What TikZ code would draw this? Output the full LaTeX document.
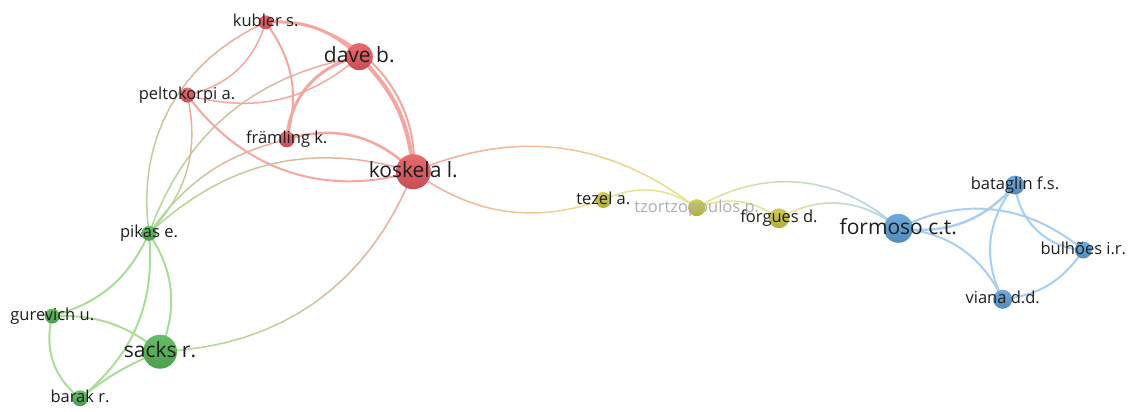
\documentclass[tikz,border=0pt]{standalone}
\usepackage{fontspec}
\setmainfont{Open Sans}
\usetikzlibrary{calc}
\definecolor{redE}{RGB}{246,166,160}
\definecolor{greenE}{RGB}{170,222,152}
\definecolor{blueE}{RGB}{168,206,242}
\definecolor{yelE}{RGB}{230,228,140}
\definecolor{redN}{RGB}{228,88,94}
\definecolor{greenN}{RGB}{84,180,84}
\definecolor{blueN}{RGB}{92,158,214}
\definecolor{yelN}{RGB}{200,198,66}
\definecolor{txt}{RGB}{30,30,30}
\definecolor{txtG}{RGB}{175,175,175}
\newcommand\pedge[5]{\draw[draw=#4, line width=#5, line cap=round] (#1.center) to[bend left=#3] (#2.center);}
\newcommand\gedge[6]{%
 \path (#1.center) to[bend left=#3] coordinate[pos=0.0625](q1) coordinate[pos=0.125](q2) coordinate[pos=0.1875](q3) coordinate[pos=0.25](q4) coordinate[pos=0.3125](q5) coordinate[pos=0.375](q6) coordinate[pos=0.4375](q7) coordinate[pos=0.5](q8) coordinate[pos=0.5625](q9) coordinate[pos=0.625](q10) coordinate[pos=0.6875](q11) coordinate[pos=0.75](q12) coordinate[pos=0.8125](q13) coordinate[pos=0.875](q14) coordinate[pos=0.9375](q15) (#2.center);
 \coordinate (q0) at (#1.center);
 \coordinate (q16) at (#2.center);
 \foreach \i in {0,...,15}{%
   \pgfmathtruncatemacro\j{\i+1}%
   \pgfmathtruncatemacro\m{100*(\i+0.5)/16}%
   \draw[line width=#6, line cap=round, draw=#5!\m!#4] (q\i) -- (q\j);
 }}
\tikzset{
  nd/.style={circle, inner sep=0pt, minimum size=#1},
  rnode/.style={nd=#1, top color=redN!88!white, bottom color=redN!88!black},
  gnode/.style={nd=#1, top color=greenN!88!white, bottom color=greenN!88!black},
  bnode/.style={nd=#1, top color=blueN!88!white, bottom color=blueN!88!black},
  ynode/.style={nd=#1, top color=yelN!88!white, bottom color=yelN!88!black},
  labS/.style={anchor=base, inner sep=0pt, text=txt, font=\fontsize{16.5}{18}\selectfont},
  labL/.style={anchor=base, inner sep=0pt, text=txt, font=\fontsize{21}{24}\selectfont},
}
\begin{document}
\begin{tikzpicture}[x=1pt,y=1pt]
\fill[white] (0,0) rectangle (1133,-412);
\useasboundingbox (0,0) rectangle (1133,-412);
% node positions
\coordinate (kub) at (265.7,-22.3);
\coordinate (dav) at (359.3,-56.7);
\coordinate (pel) at (187.3,-95);
\coordinate (fra) at (286.7,-139.3);
\coordinate (kos) at (413.3,-171.7);
\coordinate (pik) at (149,-233.3);
\coordinate (gur) at (52.3,-316);
\coordinate (sac) at (160,-351.7);
\coordinate (bar) at (80,-398.3);
\coordinate (tez) at (603.3,-200);
\coordinate (tzo) at (696.7,-207.7);
\coordinate (frg) at (779,-218.3);
\coordinate (frm) at (898.3,-228.3);
\coordinate (bat) at (1015,-185);
\coordinate (bul) at (1083.3,-250);
\coordinate (via) at (1002.7,-299.3);
% mixed-cluster edges
\gedge{kub}{pik}{-37}{redE}{greenE}{1.5}
\gedge{dav}{pik}{-30}{redE}{greenE}{1.5}
\gedge{pel}{pik}{28}{redE}{greenE}{1.5}
\gedge{fra}{pik}{-20}{redE}{greenE}{1.5}
\gedge{kos}{pik}{-30}{redE}{greenE}{1.5}
\gedge{kos}{sac}{33}{redE}{greenE}{1.5}
\gedge{kos}{tzo}{30}{redE}{yelE}{1.5}
\gedge{kos}{tez}{-27}{redE}{yelE}{1.5}
\gedge{tzo}{frm}{37}{yelE}{blueE}{1.5}
\gedge{frg}{frm}{35}{yelE}{blueE}{1.5}
% red cluster
\pedge{kub}{dav}{24}{redE}{3}
\pedge{kub}{kos}{50}{redE}{2}
\pedge{kub}{pel}{30}{redE}{1.5}
\pedge{kub}{fra}{26}{redE}{2}
\pedge{dav}{fra}{-37}{redE}{3}
\pedge{dav}{pel}{28}{redE}{1.5}
\pedge{dav}{kos}{20}{redE}{4}
\pedge{pel}{kos}{-35}{redE}{2}
\pedge{fra}{kos}{31}{redE}{2.5}
% green cluster
\pedge{pik}{gur}{25}{greenE}{2}
\pedge{pik}{sac}{28}{greenE}{2}
\pedge{pik}{bar}{28}{greenE}{2}
\pedge{gur}{sac}{20}{greenE}{2}
\pedge{gur}{bar}{-33}{greenE}{2}
\pedge{sac}{bar}{-8}{greenE}{2}
% yellow cluster
\pedge{tez}{tzo}{30}{yelE}{1.5}
\pedge{tzo}{frg}{28}{yelE}{1.5}
% blue cluster
\pedge{frm}{bat}{-28}{blueE}{2.5}
\pedge{frm}{bul}{33}{blueE}{2}
\pedge{frm}{via}{30}{blueE}{2}
\pedge{bat}{via}{-33}{blueE}{2}
\pedge{bat}{bul}{-40}{blueE}{2}
\pedge{bul}{via}{25}{blueE}{2}
% nodes
\node[rnode=14] (kubN) at (kub) {};
\node[rnode=27] (davN) at (dav) {};
\node[rnode=15] (pelN) at (pel) {};
\node[rnode=16] (fraN) at (fra) {};
\node[rnode=35] (kosN) at (kos) {};
\node[gnode=15] (pikN) at (pik) {};
\node[gnode=15] (gurN) at (gur) {};
\node[gnode=34] (sacN) at (sac) {};
\node[gnode=16] (barN) at (bar) {};
\node[ynode=16] (tezN) at (tez) {};
\node[ynode=17] (tzoN) at (tzo) {};
\node[ynode=20] (frgN) at (frg) {};
\node[bnode=29] (frmN) at (frm) {};
\node[bnode=19] (batN) at (bat) {};
\node[bnode=17] (bulN) at (bul) {};
\node[bnode=19] (viaN) at (via) {};
% faded label
\node[labS, text=txtG] (tzoL) at (696.7,-212.2) {tzortzopoulos p.};
% labels
\node[labS] (kubL) at (265.7,-26.8) {kubler s.};
\node[labL] (davL) at (359.3,-62.7) {dave b.};
\node[labS] (pelL) at (187,-99.5) {peltokorpi a.};
\node[labS] (fraL) at (286.7,-143.8) {främling k.};
\node[labL] (kosL) at (413.3,-177.7) {koskela l.};
\node[labS] (pikL) at (149,-237.8) {pikas e.};
\node[labS] (gurL) at (52.3,-320.5) {gurevich u.};
\node[labL] (sacL) at (160,-357.7) {sacks r.};
\node[labS] (barL) at (80,-402.8) {barak r.};
\node[labS] (tezL) at (603.3,-204.5) {tezel a.};
\node[labS] (frgL) at (779,-222.8) {forgues d.};
\node[labL] (frmL) at (898.3,-234.3) {formoso c.t.};
\node[labS] (batL) at (1015,-189.5) {bataglin f.s.};
\node[labS] (bulL) at (1083.3,-254.5) {bulhões i.r.};
\node[labS] (viaL) at (1002.7,-303.8) {viana d.d.};
\end{tikzpicture}
\end{document}
